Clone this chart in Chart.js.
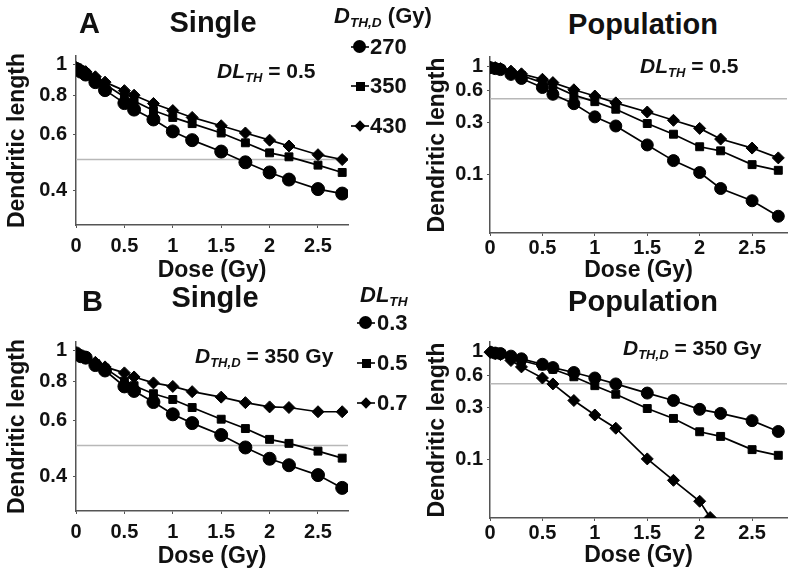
<!DOCTYPE html>
<html>
<head>
<meta charset="utf-8">
<script src="https://cdn.jsdelivr.net/npm/chart.js@4.4.1/dist/chart.umd.min.js"></script>
<style>
  body {
    margin: 0;
    width: 800px;
    height: 577px;
    position: relative;
    overflow: hidden;
    background: #fff;
    font-family: "Liberation Sans", Arial, sans-serif;
    font-weight: bold;
    color: #111;
  }
  canvas, .txt, .mk { position: absolute; }
  .txt { white-space: nowrap; line-height: 1; transform: translateY(-50%); }
  .ctr { transform: translate(-50%, -50%); }
  .big { font-size: 29px; }
  .note { font-size: 21px; }
  .leg { font-size: 22px; }
  sub { font-size: 62%; vertical-align: -0.3em; font-style: italic; }
  /* legend markers: short line with a filled symbol on it */
  .mk { width: 18px; height: 14px; transform: translate(-50%, -50%); }
  .mk::before { content: ""; position: absolute; left: 0; right: 0; top: 6px; height: 1.5px; background: #333; }
  .mk::after { content: ""; position: absolute; background: #000; }
  .mk.circle::after { width: 13px; height: 13px; border-radius: 50%; left: 2px; top: 0; }
  .mk.square::after { width: 9px; height: 9px; left: 4.5px; top: 2.5px; }
  .mk.diamond::after { width: 8px; height: 8px; left: 5px; top: 3px; transform: rotate(45deg); }
</style>
</head>
<body>
<canvas id="aSingle" width="360" height="247" style="left:0;top:38px"></canvas>
<canvas id="aPop" width="400" height="244" style="left:400px;top:41px"></canvas>
<canvas id="bSingle" width="360" height="247" style="left:0;top:324px"></canvas>
<canvas id="bPop" width="400" height="244" style="left:400px;top:326px"></canvas>

<div class="txt big" style="left:79px;top:23px">A</div>
<div class="txt big ctr" style="left:213px;top:22px">Single</div>
<div class="txt big ctr" style="left:643px;top:24px">Population</div>
<div class="txt big" style="left:82px;top:301px">B</div>
<div class="txt big ctr" style="left:215px;top:297px">Single</div>
<div class="txt big ctr" style="left:643px;top:301px">Population</div>

<div class="txt note" style="left:217px;top:72px"><i>DL</i><sub>TH</sub> = 0.5</div>
<div class="txt note" style="left:640px;top:67px"><i>DL</i><sub>TH</sub> = 0.5</div>
<div class="txt note" style="left:195px;top:357px"><i>D</i><sub>TH,D</sub> = 350 Gy</div>
<div class="txt note" style="left:623px;top:349px"><i>D</i><sub>TH,D</sub> = 350 Gy</div>

<div class="txt leg" style="left:334px;top:17px"><i>D</i><sub>TH,D</sub> (Gy)</div>
<div class="mk circle" style="left:360px;top:47px"></div>
<div class="txt leg" style="left:370px;top:47px">270</div>
<div class="mk square" style="left:360px;top:86px"></div>
<div class="txt leg" style="left:370px;top:86px">350</div>
<div class="mk diamond" style="left:360px;top:126px"></div>
<div class="txt leg" style="left:370px;top:126px">430</div>

<div class="txt leg" style="left:360px;top:296px"><i>DL</i><sub>TH</sub></div>
<div class="mk circle" style="left:366px;top:323px"></div>
<div class="txt leg" style="left:377px;top:323px">0.3</div>
<div class="mk square" style="left:366px;top:363px"></div>
<div class="txt leg" style="left:377px;top:363px">0.5</div>
<div class="mk diamond" style="left:366px;top:403px"></div>
<div class="txt leg" style="left:377px;top:403px">0.7</div>

<script>
// dose steps (Gy)
const dose = [0, 0.05, 0.1, 0.2, 0.3, 0.5, 0.6, 0.8, 1, 1.2, 1.5, 1.75, 2, 2.2, 2.5, 2.75];
// population curve for DL_TH = 0.7 stops early
const doseShort = [0, 0.05, 0.1, 0.2, 0.3, 0.5, 0.6, 0.8, 1, 1.2, 1.5, 1.75, 2, 2.1];

// A: DL_TH = 0.5, varying D_TH,D
const aSingle270 = [0.97, 0.95, 0.93, 0.88, 0.83, 0.755, 0.72, 0.67, 0.614, 0.576, 0.53, 0.49, 0.455, 0.432, 0.403, 0.39];
const aSingle350 = [0.98, 0.96, 0.94, 0.90, 0.867, 0.79, 0.767, 0.715, 0.68, 0.65, 0.607, 0.565, 0.525, 0.51, 0.48, 0.455];
const aSingle430 = [0.98, 0.965, 0.95, 0.915, 0.88, 0.827, 0.80, 0.753, 0.715, 0.68, 0.64, 0.607, 0.576, 0.552, 0.518, 0.50];
const aPop270 = [0.97, 0.95, 0.93, 0.84, 0.77, 0.635, 0.55, 0.45, 0.34, 0.28, 0.187, 0.134, 0.104, 0.074, 0.057, 0.041];
const aPop350 = [0.98, 0.96, 0.94, 0.87, 0.82, 0.705, 0.66, 0.54, 0.47, 0.40, 0.295, 0.235, 0.18, 0.165, 0.123, 0.109];
const aPop430 = [0.98, 0.97, 0.95, 0.90, 0.85, 0.757, 0.705, 0.605, 0.53, 0.458, 0.377, 0.316, 0.266, 0.212, 0.175, 0.142];

// B: D_TH,D = 350 Gy, varying DL_TH
const bSingle03 = [0.98, 0.96, 0.95, 0.90, 0.865, 0.77, 0.745, 0.687, 0.628, 0.589, 0.54, 0.493, 0.454, 0.433, 0.403, 0.367];
const bSingle05 = [0.98, 0.965, 0.95, 0.91, 0.88, 0.80, 0.774, 0.73, 0.70, 0.66, 0.606, 0.566, 0.523, 0.508, 0.48, 0.456];
const bSingle07 = [0.98, 0.965, 0.955, 0.918, 0.888, 0.85, 0.825, 0.79, 0.77, 0.741, 0.712, 0.684, 0.663, 0.66, 0.64, 0.64];
const bPop03 = [0.98, 0.96, 0.95, 0.90, 0.85, 0.757, 0.705, 0.635, 0.565, 0.498, 0.41, 0.35, 0.29, 0.266, 0.228, 0.181];
const bPop05 = [0.98, 0.96, 0.94, 0.88, 0.82, 0.73, 0.68, 0.58, 0.48, 0.40, 0.295, 0.239, 0.18, 0.163, 0.123, 0.109];
const bPop07 = [0.98, 0.95, 0.93, 0.82, 0.716, 0.565, 0.498, 0.35, 0.257, 0.194, 0.101, 0.064, 0.041, 0.029];

const threshold = 0.5;
const yTicksSingle = [0.4, 0.6, 0.8, 1];
const yTicksPop = [0.1, 0.3, 0.6, 1];

const FONT = '"Liberation Sans", Arial, sans-serif';
const AXIS = '#555';

function series(xs, ys, style, radius, clip) {
  return {
    data: xs.map((x, i) => ({ x: x, y: ys[i] })),
    borderColor: '#000',
    backgroundColor: '#000',
    borderWidth: 1.7,
    pointStyle: style,
    pointRadius: radius,
    pointBorderWidth: 1,
    pointBorderColor: '#000',
    pointBackgroundColor: '#000',
    clip: clip,
  };
}

function panel(id, lines, g) {
  const datasets = lines.slice();
  // grey threshold line, last so it sits under the curves
  datasets.push({
    data: [{ x: 0, y: threshold }, { x: g.xMax, y: threshold }],
    borderColor: '#b8b8b8',
    borderWidth: 1.5,
    pointRadius: 0,
  });
  return new Chart(document.getElementById(id), {
    type: 'line',
    data: { datasets: datasets },
    options: {
      responsive: false,
      animation: false,
      events: [],
      layout: { padding: g.pad },
      plugins: { legend: { display: false }, tooltip: { enabled: false } },
      scales: {
        x: {
          type: 'linear',
          min: 0,
          max: g.xMax,
          afterFit: (s) => { s.height = g.xh; },
          grid: { display: true, drawOnChartArea: false, tickLength: 3, color: AXIS },
          border: { display: true, color: AXIS, width: 1.5 },
          ticks: {
            stepSize: 0.5,
            includeBounds: false,
            padding: g.xPad,
            color: '#111',
            font: { family: FONT, size: 20, weight: 'bold' },
            callback: (v) => String(v),
          },
          title: {
            display: true,
            text: 'Dose (Gy)',
            color: '#111',
            padding: { top: 0, bottom: 1 },
            font: { family: FONT, size: 23, weight: 'bold' },
          },
        },
        y: {
          type: 'logarithmic',
          min: g.yMin,
          max: g.yMax,
          afterFit: (s) => { s.width = g.yw; },
          afterBuildTicks: (s) => { s.ticks = g.yTicks.map((v) => ({ value: v })); },
          grid: { display: true, drawOnChartArea: false, tickLength: 3, color: AXIS },
          border: { display: true, color: AXIS, width: 1.5 },
          ticks: {
            padding: g.yPad,
            color: '#111',
            font: { family: FONT, size: 20, weight: 'bold' },
            callback: (v) => String(v),
          },
          title: {
            display: true,
            text: 'Dendritic length',
            color: '#111',
            padding: { top: g.yTitlePad, bottom: 0 },
            font: { family: FONT, size: 23, weight: 'bold' },
          },
        },
      },
    },
  });
}

const singleGeom = {
  pad: { left: 0, top: 12, right: 12, bottom: 0 },
  xMax: 2.81, xh: 60, yw: 76, xPad: 6, yPad: 6, yTitlePad: 4,
  yMin: 0.311, yMax: 1.065, yTicks: yTicksSingle,
};
const popGeom = {
  pad: { left: 0, top: 12, right: 13, bottom: 0 },
  xMax: 2.833, xh: 52, yw: 90, xPad: 0, yPad: 4, yTitlePad: 24,
  yMin: 0.0287, yMax: 1.216, yTicks: yTicksPop,
};

panel('aSingle', [
  series(dose, aSingle270, 'circle', 6.5),
  series(dose, aSingle350, 'rect', 5.6),
  series(dose, aSingle430, 'rectRot', 6),
], singleGeom);

panel('aPop', [
  series(dose, aPop270, 'circle', 6),
  series(dose, aPop350, 'rect', 5.6),
  series(dose, aPop430, 'rectRot', 6),
], popGeom);

panel('bSingle', [
  series(dose, bSingle03, 'circle', 6.5),
  series(dose, bSingle05, 'rect', 5.6),
  series(dose, bSingle07, 'rectRot', 6),
], singleGeom);

panel('bPop', [
  series(dose, bPop03, 'circle', 6),
  series(dose, bPop05, 'rect', 5.6),
  series(doseShort, bPop07, 'rectRot', 6, { left: 8, top: 8, right: 8, bottom: 0 }),
], popGeom);
</script>
</body>
</html>
